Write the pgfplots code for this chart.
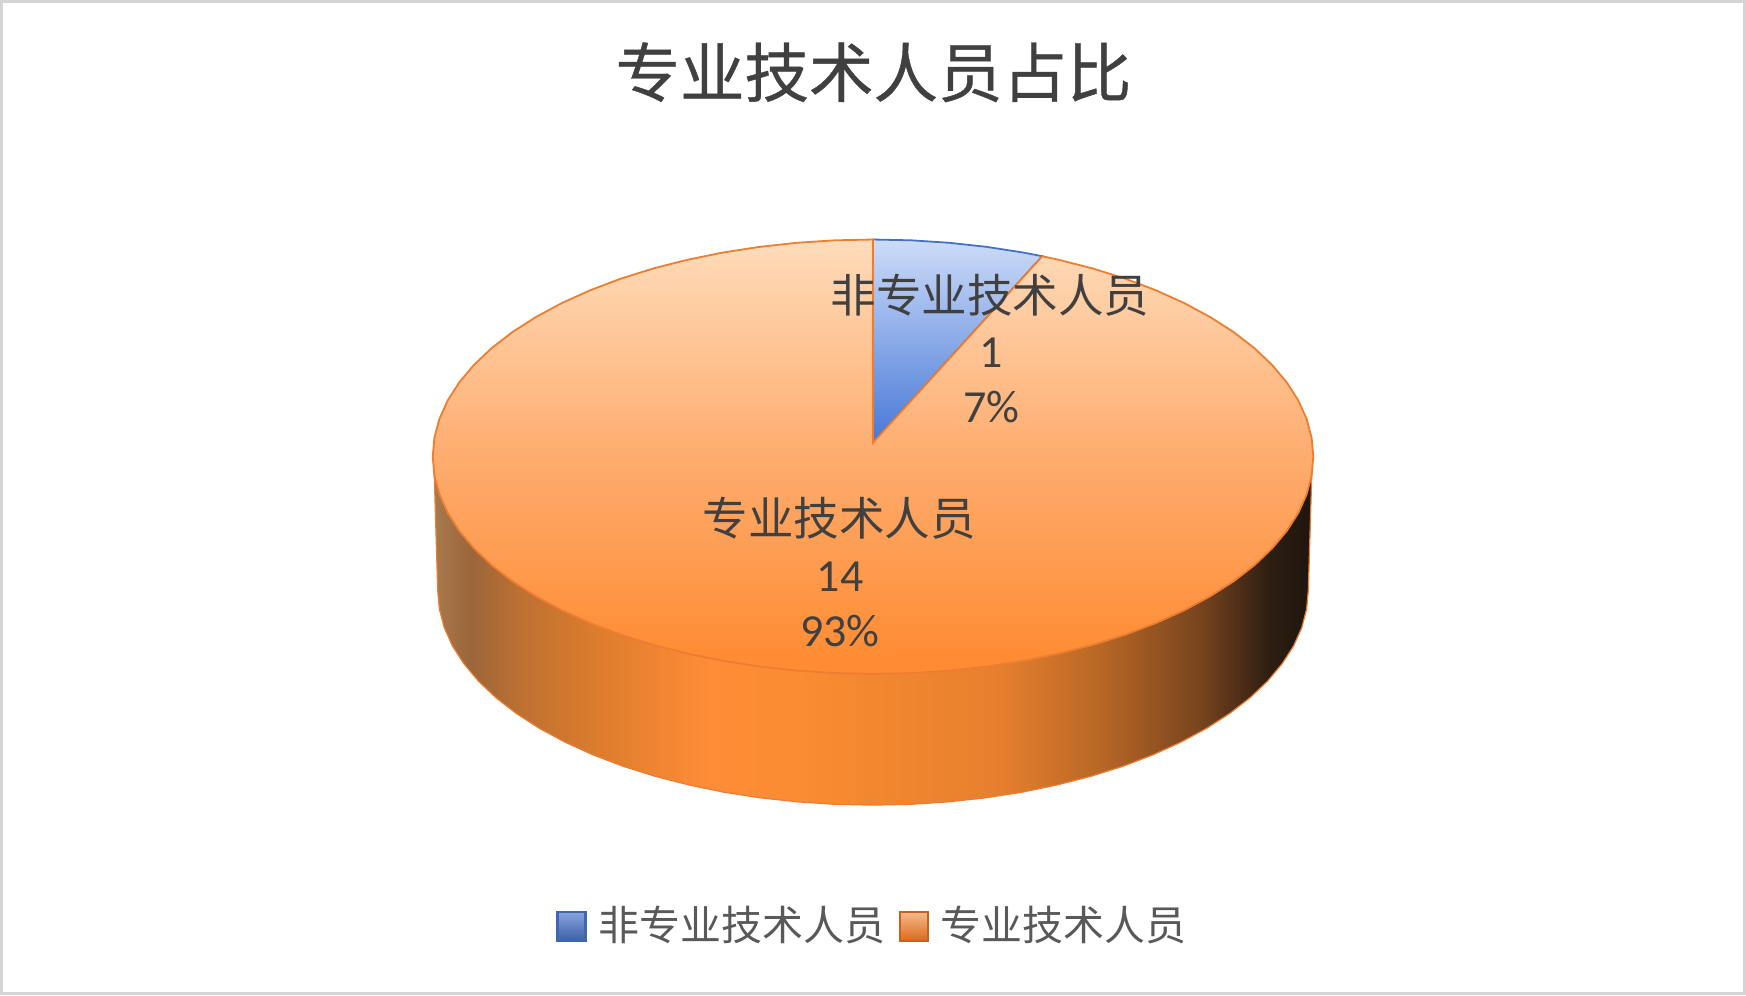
\documentclass[border=0pt]{standalone}
\usepackage{pgfplots}
\pgfplotsset{compat=1.18}
\usepackage{fontspec}
\setmainfont{Carlito}
\newfontfamily\cjk{Noto Sans CJK SC}
\newfontfamily\cjkb[FakeBold=0.6]{Noto Sans CJK SC}
\definecolor{s0}{RGB}{168,122,78}
\definecolor{s1}{RGB}{155,102,58}
\definecolor{s2}{RGB}{190,112,50}
\definecolor{s3}{RGB}{222,125,45}
\definecolor{s4}{RGB}{255,140,55}
\definecolor{s5}{RGB}{250,140,50}
\definecolor{s6}{RGB}{230,127,45}
\definecolor{s7}{RGB}{185,103,38}
\definecolor{s8}{RGB}{120,68,30}
\definecolor{s9}{RGB}{45,30,18}
\definecolor{s10}{RGB}{30,21,13}
\pgfdeclarehorizontalshading{sideshade}{100bp}{color(0bp)=(s0); color(25bp)=(s0); color(27.1bp)=(s1); color(30bp)=(s2); color(34.5bp)=(s3); color(40.7bp)=(s4); color(45.9bp)=(s5); color(57.2bp)=(s6); color(62.9bp)=(s7); color(68.6bp)=(s8); color(72.6bp)=(s9); color(75bp)=(s10); color(100bp)=(s10)}
\definecolor{ot}{RGB}{254,220,186}
\definecolor{om}{RGB}{254,172,110}
\definecolor{ob}{RGB}{255,140,52}
\pgfdeclareverticalshading{topshade}{100bp}{color(0bp)=(ob); color(27bp)=(ob); color(50bp)=(om); color(75bp)=(ot); color(100bp)=(ot)}
\definecolor{bt}{RGB}{205,220,248}
\definecolor{bb}{RGB}{70,120,215}
\definecolor{edgeo}{RGB}{237,125,49}
\definecolor{edgeb}{RGB}{68,114,196}
\definecolor{txt}{RGB}{64,64,64}
\definecolor{legt}{RGB}{89,89,89}
\definecolor{sot}{RGB}{245,185,140}
\definecolor{sob}{RGB}{220,105,30}
\definecolor{sod}{RGB}{205,95,25}
\begin{document}
\begin{tikzpicture}
\begin{axis}[
  scale only axis, width=873pt, height=497pt,
  xmin=0, xmax=1746, ymin=0, ymax=994, y dir=reverse,
  ticks=none, clip=false,
  axis line style={draw=black!17, line width=1.4pt},
]
% side
\addplot[shading=sideshade, draw=edgeo, line width=0.6pt] coordinates {
 (433,456) (437,590) (438.7,608.8) (443.6,627.4) (451.8,645.7) (463.3,663.5) (477.8,680.8) (495.4,697.5)
 (515.9,713.3) (539,728.2) (564.7,742) (592.7,754.7) (623,766.2) (655,776.2) (688.7,784.8) (723.9,792.1)
 (760.2,797.7) (797.3,801.7) (835,804.2) (873,805) (911,804.2) (948.7,801.7) (985.8,797.7) (1022.1,792.1)
 (1057.3,784.8) (1091,776.2) (1123,766.2) (1153.3,754.7) (1181.3,742) (1207,728.2) (1230.1,713.3)
 (1250.6,697.5) (1268.2,680.8) (1282.7,663.5) (1294.2,645.7) (1302.4,627.4) (1307.3,608.8) (1309,590) (1313,456)
} --cycle;
% blue sector: value 1 of 15
\addplot[top color=bt, bottom color=bb, draw=edgeb, line width=0.9pt] coordinates {
 (873,442) (873,238.5) (911.4,239.3) (949.6,241.8) (987.1,245.9) (1023.8,251.6) (1042.5,255.2)
} --cycle;
% orange sector: value 14 of 15
\addplot[shading=topshade, draw=edgeo, line width=0.9pt] coordinates {
 (873,442) (1042.5,255.2) (1059.4,258.9) (1093.5,267.6) (1125.9,277.8) (1156.5,289.4) (1184.8,302.2)
 (1210.8,316.2) (1234.2,331.2) (1254.9,347.2) (1272.7,364.1) (1287.4,381.6) (1299,399.7) (1307.3,418.2)
 (1312.3,437) (1314,456) (1312.3,475) (1307.3,493.8) (1299,512.3) (1287.4,530.4) (1272.7,547.9)
 (1254.9,564.8) (1234.2,580.8) (1210.8,595.8) (1184.8,609.8) (1156.5,622.6) (1125.9,634.2) (1093.5,644.4)
 (1059.4,653.1) (1023.8,660.4) (987.1,666.1) (949.6,670.2) (911.4,672.7) (873,673.5) (834.6,672.7)
 (796.4,670.2) (758.9,666.1) (722.2,660.4) (686.6,653.1) (652.5,644.4) (620.1,634.2) (589.5,622.6)
 (561.2,609.8) (535.2,595.8) (511.8,580.8) (491.1,564.8) (473.3,547.9) (458.6,530.4) (447,512.3)
 (438.7,493.8) (433.7,475) (432,456) (433.7,437) (438.7,418.2) (447,399.7) (458.6,381.6) (473.3,364.1)
 (491.1,347.2) (511.8,331.2) (535.2,316.2) (561.2,302.2) (589.5,289.4) (620.1,277.8) (652.5,267.6)
 (686.6,258.9) (722.2,251.6) (758.9,245.9) (796.4,241.8) (834.6,239.3) (873,238.5)
} --cycle;
% legend swatches
\addplot[top color=blue!10!edgeb!60!white, bottom color=edgeb!85!black, draw=edgeb!90!black, line width=1.2pt] coordinates {(557,912) (585,912) (585,941) (557,941)} --cycle;
\addplot[top color=sot, bottom color=sob, draw=sod, line width=1.2pt] coordinates {(900,912) (928,912) (928,941) (900,941)} --cycle;
% texts
\node[text=txt, font=\cjkb\fontsize{32.3}{38}\selectfont] at (axis cs:873.5,71) {专业技术人员占比};
\node[text=txt, font=\cjk\fontsize{22.8}{27}\selectfont] at (axis cs:990,294) {非专业技术人员};
\node[text=txt, font=\fontsize{23}{27}\selectfont] at (axis cs:991.5,352) {1};
\node[text=txt, font=\fontsize{23}{27}\selectfont] at (axis cs:991.5,406) {7\%};
\node[text=txt, font=\cjk\fontsize{22.8}{27}\selectfont] at (axis cs:839,518) {专业技术人员};
\node[text=txt, font=\fontsize{23}{27}\selectfont] at (axis cs:840,576) {14};
\node[text=txt, font=\fontsize{23}{27}\selectfont] at (axis cs:840,631) {93\%};
\node[text=legt, font=\cjk\fontsize{20.5}{24}\selectfont] at (axis cs:741.5,925) {非专业技术人员};
\node[text=legt, font=\cjk\fontsize{20.5}{24}\selectfont] at (axis cs:1063.5,925) {专业技术人员};
\end{axis}
\end{tikzpicture}
\end{document}
